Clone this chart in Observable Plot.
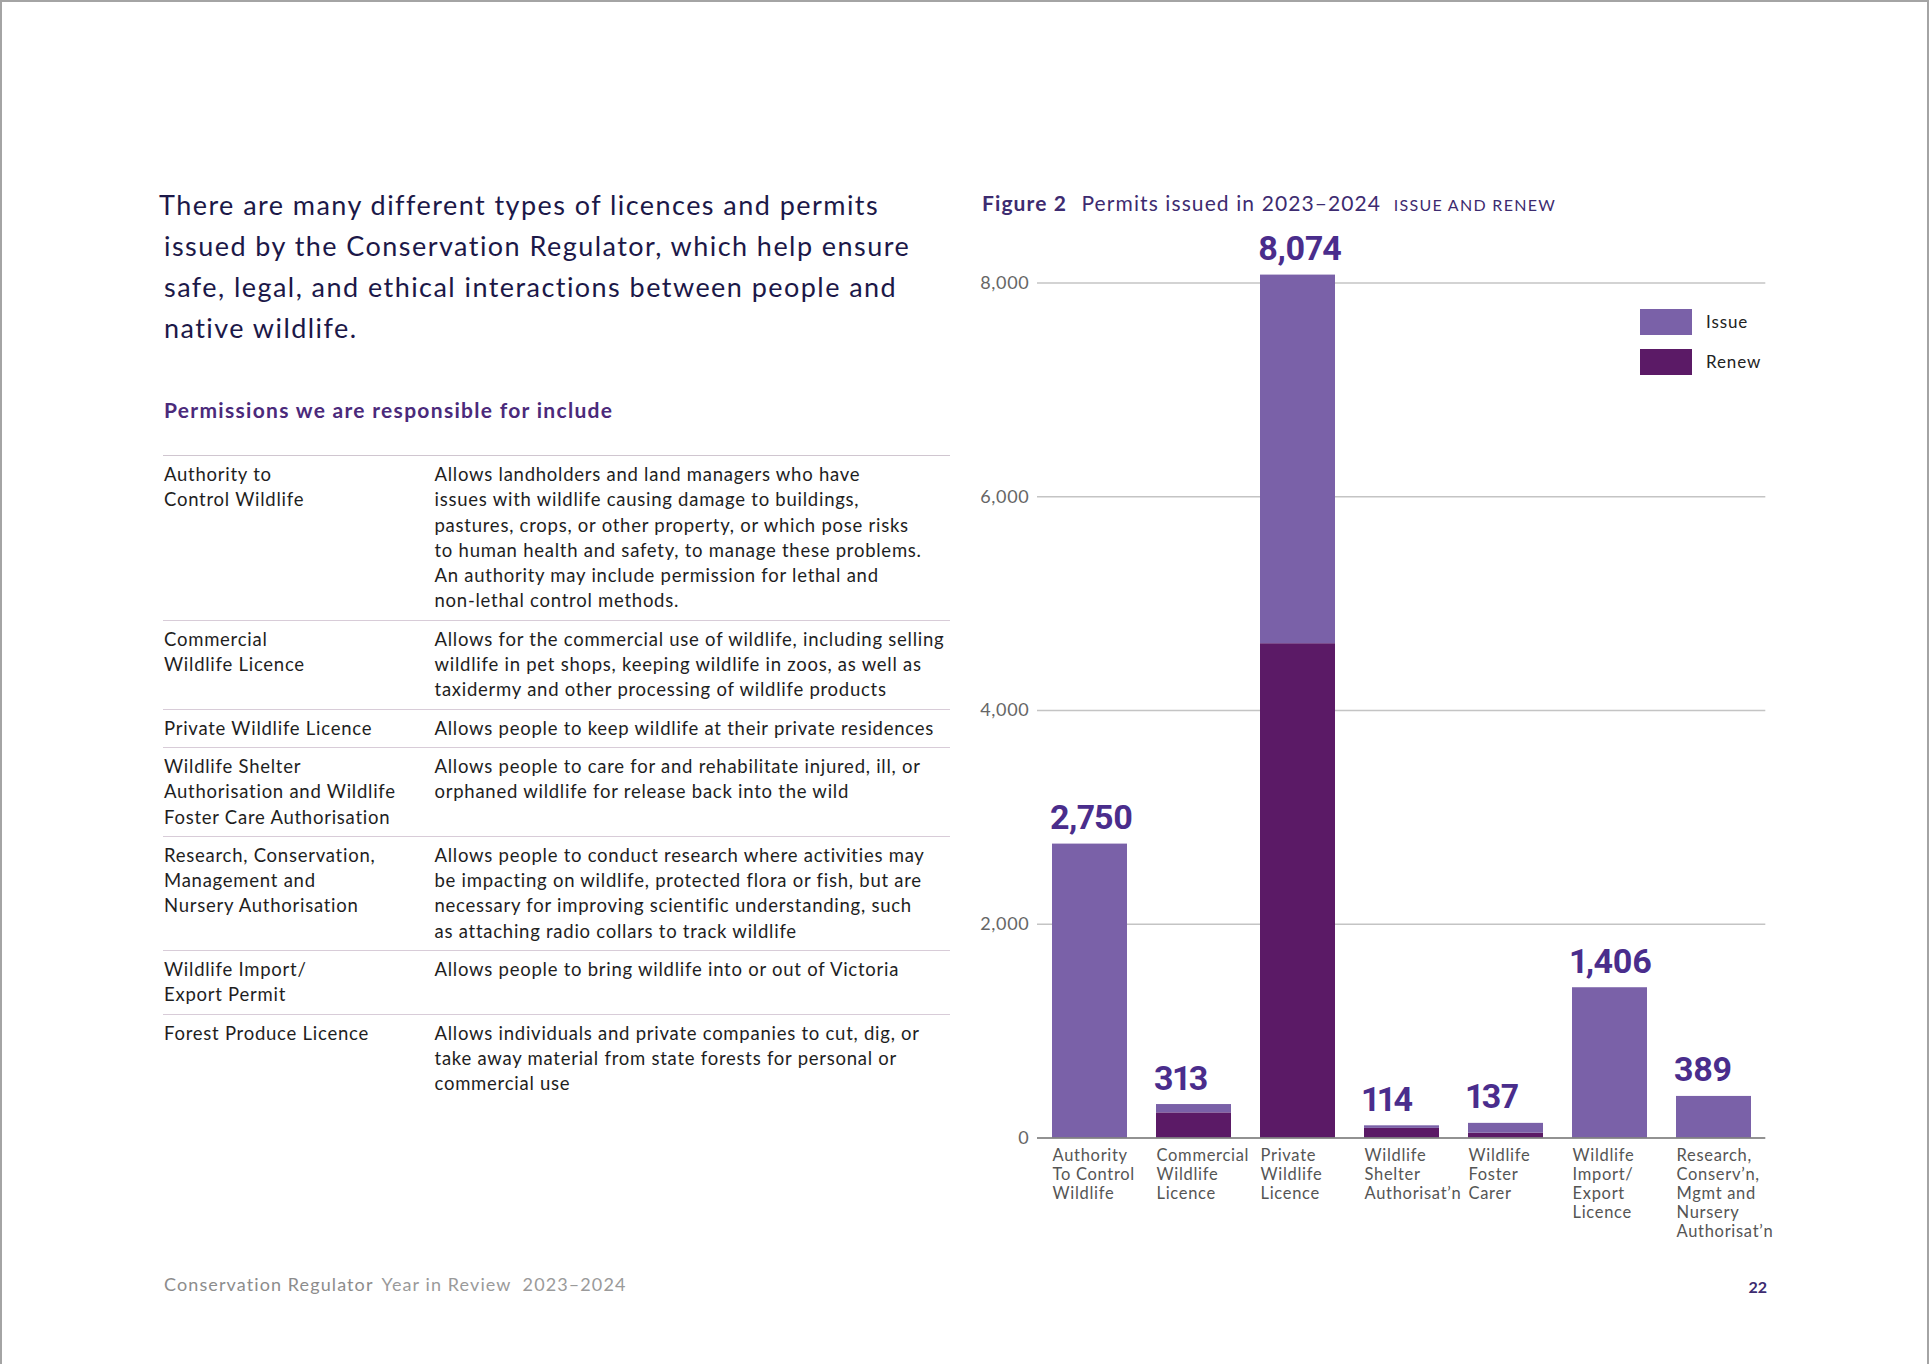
<!DOCTYPE html>
<html>
<head>
<meta charset="utf-8">
<script src="https://cdn.jsdelivr.net/npm/d3@7"></script>
<script src="https://cdn.jsdelivr.net/npm/@observablehq/plot@0.6"></script>
<style>
  html, body { margin: 0; padding: 0; background: #fff; }
  #page {
    position: relative; width: 1929px; height: 1364px; box-sizing: border-box;
    border-top: 2px solid #a4a4a4; border-left: 2px solid #a4a4a4; border-right: 2px solid #a4a4a4;
    font-family: Lato, "Open Sans", sans-serif; overflow: hidden;
  }
  .abs { position: absolute; }
  #intro { left: 157px; top: 182px; font-size: 27px; line-height: 41px; color: #1c1848; white-space: nowrap; letter-spacing: 1.45px; }
  #intro span.i { padding-left: 5px; }
  #perm { left: 162px; top: 395px; font-size: 21px; font-weight: 700; color: #4b2a7b; white-space: nowrap; letter-spacing: 1.3px; }
  #tbl { left: 161px; top: 453px; width: 787px; border-collapse: collapse; font-size: 18.5px; line-height: 25.3px; color: #1e1e1e; letter-spacing: 0.75px; }
  #tbl td { vertical-align: top; padding: 6px 0 6px 0; white-space: nowrap; }
  #tbl tr { border-top: 1.5px solid #d8ccd8; }
  #tbl tr:first-child { border-top: 1.5px solid #d0c6d0; }
  #tbl td.c1 { width: 270.5px; padding-left: 1px; }
  #figtitle { left: 980px; top: 188px; font-size: 21px; color: #3d2b70; white-space: nowrap; letter-spacing: 1.1px; }
  #figtitle b { font-weight: 700; margin-right: 8px; }
  #figtitle .sc { font-size: 16px; letter-spacing: 1.3px; margin-left: 6px; }
  #chart { left: 950px; top: 221px; }
  #chart g[aria-label="x-axis tick label"] { letter-spacing: 0.7px; }
  #chart g[aria-label="y-axis tick label"] { letter-spacing: 0.7px; }
  #chart g[aria-label="text"] { letter-spacing: -0.6px; font-variant-numeric: proportional-nums; }
  .lg { position: absolute; left: 1638px; width: 52px; height: 26px; }
  .lgt { position: absolute; left: 1704px; font-size: 17px; color: #222; letter-spacing: 0.9px; }
  #footer { left: 162px; top: 1271px; font-size: 18px; color: #9a9a9a; white-space: nowrap; letter-spacing: 1.1px; }
  #footer .a { color: #8c8c8c; margin-right: 8px; }
  #pnum { left: 1745px; top: 1275px; width: 20px; text-align: right; font-size: 16px; font-weight: 700; color: #3d2b70; }
</style>
</head>
<body>
<div id="page">
  <div id="intro" class="abs">There are many different types of licences and permits<br><span class="i">issued by the Conservation Regulator, which help ensure</span><br><span class="i">safe, legal, and ethical interactions between people and</span><br><span class="i">native wildlife.</span></div>
  <div id="perm" class="abs">Permissions we are responsible for include</div>
  <table id="tbl" class="abs">
    <tr><td class="c1">Authority to<br>Control Wildlife</td><td>Allows landholders and land managers who have<br>issues with wildlife causing damage to buildings,<br>pastures, crops, or other property, or which pose risks<br>to human health and safety, to manage these problems.<br>An authority may include permission for lethal and<br>non-lethal control methods.</td></tr>
    <tr><td class="c1">Commercial<br>Wildlife Licence</td><td>Allows for the commercial use of wildlife, including selling<br>wildlife in pet shops, keeping wildlife in zoos, as well as<br>taxidermy and other processing of wildlife products</td></tr>
    <tr><td class="c1">Private Wildlife Licence</td><td>Allows people to keep wildlife at their private residences</td></tr>
    <tr><td class="c1">Wildlife Shelter<br>Authorisation and Wildlife<br>Foster Care Authorisation</td><td>Allows people to care for and rehabilitate injured, ill, or<br>orphaned wildlife for release back into the wild</td></tr>
    <tr><td class="c1">Research, Conservation,<br>Management and<br>Nursery Authorisation</td><td>Allows people to conduct research where activities may<br>be impacting on wildlife, protected flora or fish, but are<br>necessary for improving scientific understanding, such<br>as attaching radio collars to track wildlife</td></tr>
    <tr><td class="c1">Wildlife Import/<br>Export Permit</td><td>Allows people to bring wildlife into or out of Victoria</td></tr>
    <tr><td class="c1">Forest Produce Licence</td><td>Allows individuals and private companies to cut, dig, or<br>take away material from state forests for personal or<br>commercial use</td></tr>
  </table>

  <div id="figtitle" class="abs"><b>Figure 2</b> Permits issued in 2023–2024 <span class="sc">ISSUE AND RENEW</span></div>
  <div id="chart" class="abs"></div>
  <div class="lg" style="top:307px;background:#7a61a8"></div>
  <div class="lgt" style="top:309px">Issue</div>
  <div class="lg" style="top:347px;background:#5b1a66"></div>
  <div class="lgt" style="top:349px">Renew</div>

  <div id="footer" class="abs"><span class="a">Conservation Regulator</span>Year in Review&nbsp; 2023–2024</div>
  <div id="pnum" class="abs">22</div>
</div>
<script>
// ---- data ----
const categories = ["Authority", "Commercial", "Private", "Shelter", "Foster", "Import", "Research"];
const categoryLabels = [
  "Authority\nTo Control\nWildlife",
  "Commercial\nWildlife\nLicence",
  "Private\nWildlife\nLicence",
  "Wildlife\nShelter\nAuthorisat’n",
  "Wildlife\nFoster\nCarer",
  "Wildlife\nImport/\nExport\nLicence",
  "Research,\nConserv’n,\nMgmt and\nNursery\nAuthorisat’n"
];
const totals = [2750, 313, 8074, 114, 137, 1406, 389];
const renewValues = [0, 235, 4625, 90, 45, 0, 0];
const issueValues = totals.map((t, i) => t - renewValues[i]);
const seriesNames = ["Issue", "Renew"];
const seriesColors = ["#7a61a8", "#5b1a66"];
const yTicks = [0, 2000, 4000, 6000, 8000];

const stacked = [];
categories.forEach((c, i) => {
  stacked.push({category: c, type: "Renew", value: renewValues[i]});
  stacked.push({category: c, type: "Issue", value: issueValues[i]});
});
const totalRows = categories.map((c, i) => ({category: c, total: totals[i]}));
const labelOf = new Map(categories.map((c, i) => [c, categoryLabels[i]]));

const chart = Plot.plot({
  width: 840,
  height: 1020,
  marginLeft: 85,
  marginRight: 26.7,
  marginTop: 59.5,
  marginBottom: 105.5,
  style: {fontFamily: "Lato, 'Open Sans', sans-serif", background: "transparent"},
  x: {domain: categories, paddingInner: 0.28, paddingOuter: 0.14, label: null},
  y: {domain: [0, 8000], label: null},
  color: {domain: seriesNames, range: seriesColors},
  marks: [
    Plot.ruleY(yTicks.filter(d => d > 0), {stroke: "#c4c4c4", strokeWidth: 1.3}),
    Plot.barY(stacked, {x: "category", y: "value", fill: "type", order: ["Renew", "Issue"]}),
    Plot.ruleY([0], {stroke: "#6e6e6e", strokeWidth: 1.4}),
    Plot.text(totalRows, {
      x: "category", y: "total", text: d => d3.format(",")(d.total),
      textAnchor: "start", dx: -40, lineAnchor: "bottom", dy: -15,
      fontSize: 34, fontWeight: 700, fill: "#4a2d8c",
      fontFamily: "Roboto, Lato, sans-serif"
    }),
    Plot.axisY({ticks: yTicks, tickSize: 0, tickPadding: 8, fontSize: 18, fill: "#666",
      tickFormat: d3.format(","), label: null}),
    Plot.axisX({tickSize: 0, tickPadding: 9, textAnchor: "start", dx: -37.5, lineAnchor: "top",
      fontSize: 16.5, fill: "#555", lineHeight: 1.16,
      tickFormat: c => labelOf.get(c), label: null})
  ]
});
document.getElementById("chart").appendChild(chart);
</script>
</body>
</html>
